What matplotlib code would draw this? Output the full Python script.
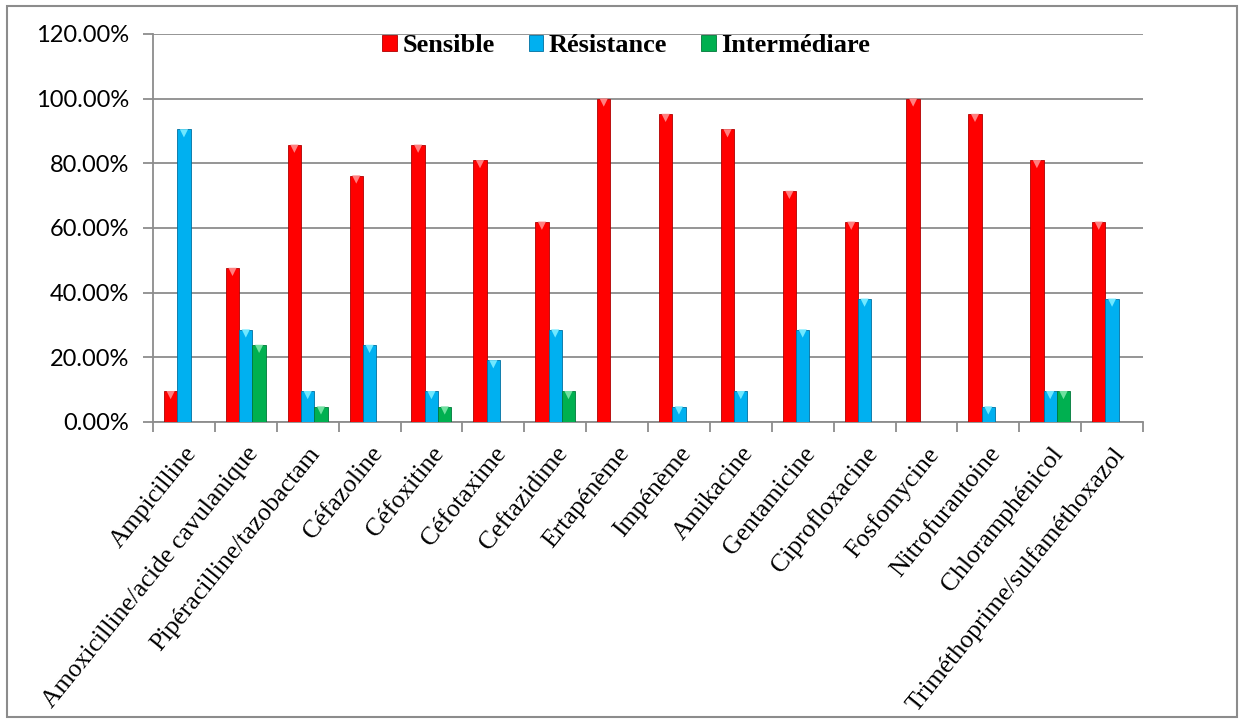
import matplotlib.pyplot as plt
import numpy as np
from matplotlib.patches import Rectangle
from matplotlib.ticker import FuncFormatter, FixedLocator

antibiotiques = [
    "Ampicilline", "Amoxicilline/acide cavulanique", "Pipéracilline/tazobactam",
    "Céfazoline", "Céfoxitine", "Céfotaxime", "Ceftazidime", "Ertapénème",
    "Impénème", "Amikacine", "Gentamicine", "Ciprofloxacine", "Fosfomycine",
    "Nitrofurantoine", "Chloramphénicol", "Triméthoprime/sulfaméthoxazol",
]
sensible = [9.52, 47.62, 85.71, 76.19, 85.71, 80.95, 61.90, 100.0,
            95.24, 90.48, 71.43, 61.90, 100.0, 95.24, 80.95, 61.90]
resistance = [90.48, 28.57, 9.52, 23.81, 9.52, 19.05, 28.57, 0.0,
              4.76, 9.52, 28.57, 38.10, 0.0, 4.76, 9.52, 38.10]
intermediaire = [0.0, 23.81, 4.76, 0.0, 4.76, 0.0, 9.52, 0.0,
                 0.0, 0.0, 0.0, 0.0, 0.0, 0.0, 9.52, 0.0]

series = [
    ("Sensible", sensible, "#FF0000", "#B00000", "#FF8080"),
    ("Résistance", resistance, "#00B0F0", "#0070A0", "#70E8FF"),
    ("Intermédiare", intermediaire, "#00B050", "#00783A", "#70E0A0"),
]

GRID = "#8C8C8C"
SERIF = "Liberation Serif"

fig = plt.figure(figsize=(12.4, 7.2), dpi=100)
ax = fig.add_axes([153 / 1240, 1 - 422 / 720, 990 / 1240, 388 / 720])

x = np.arange(len(antibiotiques))
w = 0.215
for i, (name, vals, col, dark, light) in enumerate(series):
    pos = x + (i - 1) * w
    ax.bar(pos, vals, w, color=col, edgecolor=dark, linewidth=0.6, zorder=3, label=name)
    # small bevel triangle on top of each bar
    vals = np.array(vals)
    keep = vals > 0
    ax.scatter(pos[keep], vals[keep] - 1.2, marker="v", s=35, color=light,
               edgecolors="none", zorder=4)

ax.set_xlim(-0.5, len(antibiotiques) - 0.5)
ax.set_ylim(0, 120)
ax.set_yticks(np.arange(0, 121, 20))
ax.yaxis.set_major_formatter(FuncFormatter(lambda v, p: f"{v:.2f}%"))
ax.grid(axis="y", color=GRID, linewidth=1.3, zorder=0)

ax.set_xticks(x)
ax.set_xticklabels(antibiotiques, rotation=51, ha="right", rotation_mode="anchor",
                   fontsize=18.5, family=SERIF)
ax.tick_params(axis="x", length=0, pad=15)
ax.xaxis.set_minor_locator(FixedLocator(np.arange(-0.5, len(antibiotiques), 1)))
ax.tick_params(axis="x", which="minor", length=7, color=GRID, width=1.3)
ax.tick_params(axis="y", length=7, color=GRID, width=1.3, labelsize=17, pad=10)
for lab in ax.get_yticklabels():
    lab.set_family("Lato")

for s in ["top", "right"]:
    ax.spines[s].set_visible(False)
for s in ["left", "bottom"]:
    ax.spines[s].set_color(GRID)
    ax.spines[s].set_linewidth(1.3)

leg = ax.legend(loc="center", bbox_to_anchor=(0.478, 0.97), ncol=3, frameon=False,
                prop={"family": SERIF, "weight": "bold", "size": 19},
                handlelength=0.55, handleheight=0.55, handletextpad=0.2, columnspacing=1.3)

# outer frame around the whole chart
fig.patches.append(Rectangle((7 / 1240, 3 / 720), 1230 / 1240, 711 / 720,
                             transform=fig.transFigure, fill=False,
                             edgecolor=GRID, linewidth=1.5))

fig.savefig("out.png", dpi=100)
